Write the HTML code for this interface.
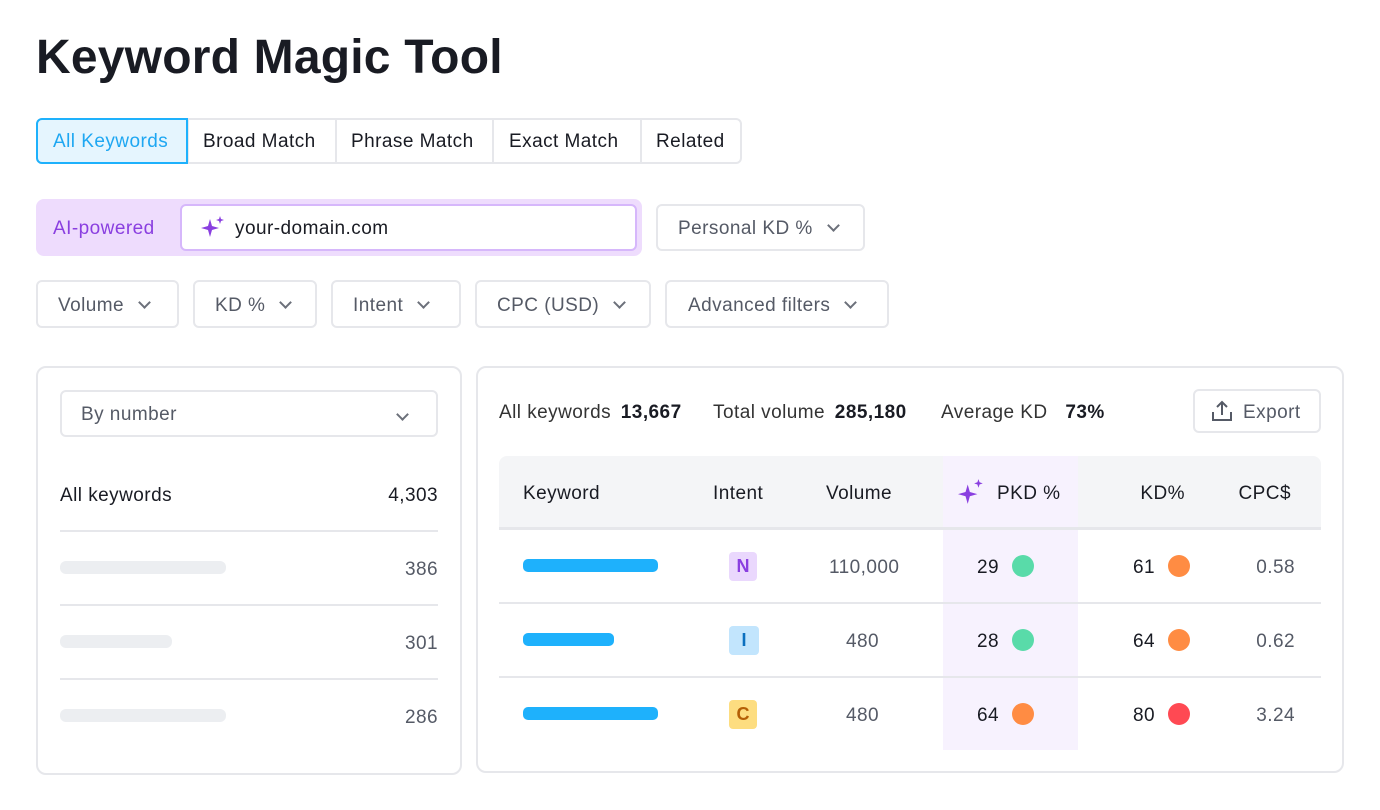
<!DOCTYPE html>
<html><head><style>
*{box-sizing:border-box;margin:0;padding:0}
body{width:1380px;height:810px;background:#fff;font-family:"Liberation Sans",sans-serif;color:#191b23;position:relative;overflow:hidden}
.a{position:absolute}
.box{position:absolute;border:2px solid #e6e7eb;border-radius:6px;background:#fff}
.t{position:absolute;font-size:19px;white-space:nowrap;line-height:1;letter-spacing:0.45px;top:0}
.r{text-align:right}
.g{color:#555a66}
.chev{display:inline-block;width:9px;height:9px;border-right:2px solid #6c707a;border-bottom:2px solid #6c707a;transform:rotate(45deg);margin-left:16px;position:relative;top:-4px}
.line{position:absolute;height:2px;background:#e6e7eb}
.dot{position:absolute;width:22px;height:22px;border-radius:50%}
.bar{position:absolute;height:13px;border-radius:5px;background:#1eb1fc}
.gbar{position:absolute;height:13px;border-radius:6px;background:#eceef1}
</style></head><body>
<div class="t" style="left:36px;top:34px;font-size:48px;font-weight:bold;letter-spacing:0.2px">Keyword Magic Tool</div>

<div class="box" style="left:36px;top:118px;width:706px;height:46px"></div>
<div class="a" style="left:187px;top:120px;width:2px;height:42px;background:#e6e7eb"></div>
<div class="a" style="left:335px;top:120px;width:2px;height:42px;background:#e6e7eb"></div>
<div class="a" style="left:492px;top:120px;width:2px;height:42px;background:#e6e7eb"></div>
<div class="a" style="left:640px;top:120px;width:2px;height:42px;background:#e6e7eb"></div>
<div class="a" style="left:36px;top:118px;width:152px;height:46px;border:2px solid #1eb1fc;border-radius:6px 0 0 6px;background:#e5f5fe"></div>
<div class="t" style="left:53px;top:132px;color:#1ea7f2">All Keywords</div>
<div class="t" style="left:203px;top:132px">Broad Match</div>
<div class="t" style="left:351px;top:132px">Phrase Match</div>
<div class="t" style="left:509px;top:132px">Exact Match</div>
<div class="t" style="left:656px;top:132px">Related</div>

<div class="a" style="left:36px;top:199px;width:606px;height:57px;border-radius:8px;background:#eedcfd"></div>
<div class="t" style="left:53px;top:219px;color:#8a3fe0">AI-powered</div>
<div class="a" style="left:180px;top:204px;width:457px;height:47px;border:2px solid #d6b7fb;border-radius:6px;background:#fff"></div>
<svg class="a" style="left:200px;top:215px" width="26" height="26" viewBox="0 0 26 26"><path d="M10 4 L12 11 L19 13 L12 15 L10 22 L8 15 L1 13 L8 11Z" fill="#8a3fe0"/><path d="M20 1 L21 4 L24 5 L21 6 L20 9 L19 6 L16 5 L19 4Z" fill="#8a3fe0"/></svg>
<div class="t" style="left:235px;top:219px">your-domain.com</div>
<div class="box" style="left:656px;top:204px;width:209px;height:47px"></div>
<div class="t g" style="left:678px;top:219px">Personal KD %<span class="chev"></span></div>

<div class="box" style="left:36px;top:280px;width:143px;height:48px"></div>
<div class="t g" style="left:58px;top:296px">Volume<span class="chev"></span></div>
<div class="box" style="left:193px;top:280px;width:124px;height:48px"></div>
<div class="t g" style="left:215px;top:296px">KD %<span class="chev"></span></div>
<div class="box" style="left:331px;top:280px;width:130px;height:48px"></div>
<div class="t g" style="left:353px;top:296px">Intent<span class="chev"></span></div>
<div class="box" style="left:475px;top:280px;width:176px;height:48px"></div>
<div class="t g" style="left:497px;top:296px">CPC (USD)<span class="chev"></span></div>
<div class="box" style="left:665px;top:280px;width:224px;height:48px"></div>
<div class="t g" style="left:688px;top:296px">Advanced filters<span class="chev"></span></div>

<!-- left panel -->
<div class="box" style="left:36px;top:366px;width:426px;height:409px;border-radius:10px"></div>
<div class="box" style="left:60px;top:390px;width:378px;height:47px"></div>
<div class="t g" style="left:81px;top:405px">By number</div>
<div class="chev a" style="left:398px;top:406px;margin:0"></div>
<div class="t" style="left:60px;top:486px">All keywords</div>
<div class="t r" style="right:942px;top:486px">4,303</div>
<div class="line" style="left:60px;top:530px;width:378px"></div>
<div class="gbar" style="left:60px;top:561px;width:166px"></div>
<div class="t g r" style="right:942px;top:560px">386</div>
<div class="line" style="left:60px;top:604px;width:378px"></div>
<div class="gbar" style="left:60px;top:635px;width:112px"></div>
<div class="t g r" style="right:942px;top:634px">301</div>
<div class="line" style="left:60px;top:678px;width:378px"></div>
<div class="gbar" style="left:60px;top:709px;width:166px"></div>
<div class="t g r" style="right:942px;top:708px">286</div>

<!-- right panel -->
<div class="box" style="left:476px;top:366px;width:868px;height:407px;border-radius:10px"></div>
<div class="t" style="left:499px;top:403px;color:#333">All keywords <b style="color:#191b23;margin-left:4px">13,667</b></div>
<div class="t" style="left:713px;top:403px;color:#333">Total volume <b style="color:#191b23;margin-left:4px">285,180</b></div>
<div class="t" style="left:941px;top:403px;color:#333">Average KD <b style="color:#191b23;margin-left:12px">73%</b></div>
<div class="box" style="left:1193px;top:389px;width:128px;height:44px"></div>
<svg class="a" style="left:1210px;top:400px" width="24" height="22" viewBox="0 0 24 22"><path d="M12 15V2M7 7l5-5 5 5M3 12v8h18v-8" fill="none" stroke="#555a66" stroke-width="2"/></svg>
<div class="t g" style="left:1243px;top:403px">Export</div>

<div class="a" style="left:499px;top:456px;width:822px;height:72px;background:#f4f5f7;border-radius:8px 8px 0 0"></div>
<div class="a" style="left:943px;top:456px;width:135px;height:294px;background:#f7f2fe"></div>
<div class="line" style="left:499px;top:527px;width:822px;height:3px"></div>
<div class="t" style="left:523px;top:484px">Keyword</div>
<div class="t" style="left:713px;top:484px">Intent</div>
<div class="t" style="left:826px;top:484px">Volume</div>
<svg class="a" style="left:958px;top:478px" width="28" height="28" viewBox="0 0 26 26"><path d="M9 6 L11 13 L18 15 L11 17 L9 24 L7 17 L0 15 L7 13Z" fill="#8a3fe0"/><path d="M19 1 L20 4 L23 5 L20 6 L19 9 L18 6 L15 5 L18 4Z" fill="#8a3fe0"/></svg>
<div class="t" style="left:997px;top:484px">PKD %</div>
<div class="t r" style="right:195px;top:484px">KD%</div>
<div class="t r" style="right:89px;top:484px">CPC$</div>

<div class="line" style="left:499px;top:602px;width:822px"></div>
<div class="line" style="left:499px;top:676px;width:822px"></div>

<!-- rows -->
<div class="bar" style="left:523px;top:559px;width:135px"></div>
<div class="a" style="left:729px;top:552px;width:28px;height:29px;border-radius:4px;background:#ead8fd;color:#8a3fe0;font-weight:bold;font-size:18px;text-align:center;line-height:29px">N</div>
<div class="t g" style="left:829px;top:558px">110,000</div>
<div class="t" style="left:977px;top:558px">29</div><div class="dot" style="left:1012px;top:555px;background:#59dba9"></div>
<div class="t" style="left:1133px;top:558px">61</div><div class="dot" style="left:1168px;top:555px;background:#ff8c43"></div>
<div class="t g r" style="right:85px;top:558px">0.58</div>

<div class="bar" style="left:523px;top:633px;width:91px"></div>
<div class="a" style="left:729px;top:626px;width:30px;height:29px;border-radius:4px;background:#c2e5fd;color:#0b6fbf;font-weight:bold;font-size:18px;text-align:center;line-height:29px">I</div>
<div class="t g" style="left:846px;top:632px">480</div>
<div class="t" style="left:977px;top:632px">28</div><div class="dot" style="left:1012px;top:629px;background:#59dba9"></div>
<div class="t" style="left:1133px;top:632px">64</div><div class="dot" style="left:1168px;top:629px;background:#ff8c43"></div>
<div class="t g r" style="right:85px;top:632px">0.62</div>

<div class="bar" style="left:523px;top:707px;width:135px"></div>
<div class="a" style="left:729px;top:700px;width:28px;height:29px;border-radius:4px;background:#fddd80;color:#b45f06;font-weight:bold;font-size:18px;text-align:center;line-height:29px">C</div>
<div class="t g" style="left:846px;top:706px">480</div>
<div class="t" style="left:977px;top:706px">64</div><div class="dot" style="left:1012px;top:703px;background:#ff8c43"></div>
<div class="t" style="left:1133px;top:706px">80</div><div class="dot" style="left:1168px;top:703px;background:#ff4953"></div>
<div class="t g r" style="right:85px;top:706px">3.24</div>
</body></html>
